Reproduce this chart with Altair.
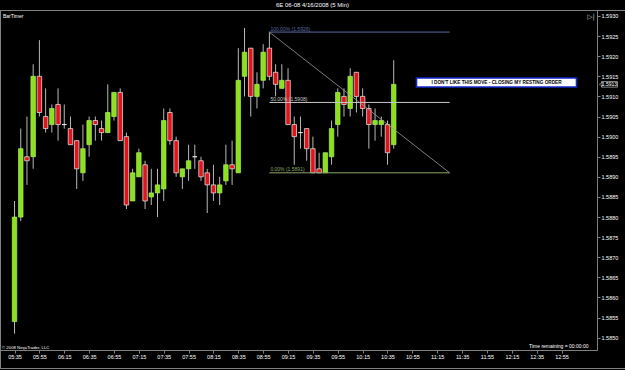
import altair as alt
import pandas as pd

# ---------------- data ----------------
bar_times = ["05:35", "05:40", "05:45", "05:50", "05:55", "06:00", "06:05", "06:10",
             "06:15", "06:20", "06:25", "06:30", "06:35", "06:40", "06:45", "06:50",
             "06:55", "07:00", "07:05", "07:10", "07:15", "07:20", "07:25", "07:30",
             "07:35", "07:40", "07:45", "07:50", "07:55", "08:00", "08:05", "08:10",
             "08:15", "08:20", "08:25", "08:30", "08:35", "08:40", "08:45", "08:50",
             "08:55", "09:00", "09:05", "09:10", "09:15", "09:20", "09:25", "09:30",
             "09:35", "09:40", "09:45", "09:50", "09:55", "10:00", "10:05", "10:10",
             "10:15", "10:20", "10:25", "10:30", "10:35", "10:40"]

opens = [1.5854, 1.5880, 1.5895, 1.5895, 1.5915, 1.5905, 1.5903, 1.5908,
         1.5903, 1.5902, 1.5899, 1.5891, 1.5898, 1.5904, 1.5902, 1.5901,
         1.5905, 1.5911, 1.5900, 1.5884, 1.5890, 1.5893, 1.5885, 1.5886,
         1.5887, 1.5906, 1.5899, 1.5890, 1.5892, 1.5895, 1.5894, 1.5891,
         1.5888, 1.5886, 1.5889, 1.5893, 1.5891, 1.5915, 1.5922, 1.5910,
         1.5914, 1.5922, 1.5916, 1.5912, 1.5914, 1.5903, 1.5901, 1.5902,
         1.5897, 1.5892, 1.5891, 1.5895, 1.5903, 1.5910, 1.5907, 1.5916,
         1.5910, 1.5907, 1.5903, 1.5903, 1.5903, 1.5898]
highs = [1.5884, 1.5902, 1.5905, 1.5918, 1.5924, 1.5912, 1.5908, 1.5912,
         1.5908, 1.5905, 1.5899, 1.5903, 1.5905, 1.5905, 1.5904, 1.5913,
         1.5911, 1.5912, 1.5901, 1.5892, 1.5897, 1.5894, 1.5892, 1.5892,
         1.5907, 1.5907, 1.5900, 1.5892, 1.5898, 1.5898, 1.5895, 1.5892,
         1.5893, 1.5890, 1.5898, 1.5899, 1.5922, 1.5927, 1.5922, 1.5916,
         1.5923, 1.5926, 1.5918, 1.5918, 1.5917, 1.5905, 1.5905, 1.5902,
         1.5900, 1.5896, 1.5896, 1.5904, 1.5912, 1.5912, 1.5917, 1.5916,
         1.5912, 1.5908, 1.5907, 1.5905, 1.5904, 1.5919]
lows = [1.5851, 1.5879, 1.5888, 1.5892, 1.5905, 1.5901, 1.5901, 1.5899,
        1.5902, 1.5898, 1.5887, 1.5889, 1.5895, 1.5899, 1.5899, 1.5901,
        1.5904, 1.5899, 1.5882, 1.5884, 1.5890, 1.5882, 1.5883, 1.5880,
        1.5884, 1.5898, 1.5890, 1.5887, 1.5889, 1.5892, 1.5889, 1.5881,
        1.5884, 1.5883, 1.5888, 1.5888, 1.5891, 1.5910, 1.5905, 1.5907,
        1.5912, 1.5914, 1.5910, 1.5912, 1.5903, 1.5893, 1.5897, 1.5894,
        1.5891, 1.5891, 1.5891, 1.5893, 1.5900, 1.5905, 1.5905, 1.5906,
        1.5905, 1.5897, 1.5899, 1.5900, 1.5893, 1.5897]
closes = [1.5880, 1.5897, 1.5894, 1.5915, 1.5906, 1.5902, 1.5907, 1.5903,
          1.5903, 1.5898, 1.5892, 1.5897, 1.5904, 1.5903, 1.5901, 1.5906,
          1.5911, 1.5899, 1.5883, 1.5891, 1.5896, 1.5884, 1.5886, 1.5888,
          1.5904, 1.5899, 1.5891, 1.5892, 1.5894, 1.5895, 1.5890, 1.5888,
          1.5886, 1.5888, 1.5893, 1.5892, 1.5914, 1.5921, 1.5910, 1.5913,
          1.5921, 1.5915, 1.5913, 1.5914, 1.5903, 1.5900, 1.5901, 1.5897,
          1.5891, 1.5891, 1.5896, 1.5902, 1.5911, 1.5908, 1.5915, 1.5910,
          1.5907, 1.5903, 1.5904, 1.5904, 1.5896, 1.5913]

x_tick_labels = ["05:35", "05:55", "06:15", "06:35", "06:55", "07:15", "07:35",
                 "07:55", "08:15", "08:35", "08:55", "09:15", "09:35", "09:55",
                 "10:15", "10:35", "10:55", "11:15", "11:35", "11:55", "12:15",
                 "12:35", "12:55"]
y_tick_labels = ["1.5850", "1.5855", "1.5860", "1.5865", "1.5870", "1.5875",
                 "1.5880", "1.5885", "1.5890", "1.5895", "1.5900", "1.5905",
                 "1.5910", "1.5915", "1.5920", "1.5925", "1.5930"]

fib_anchor_times = ["09:00", "11:25"]
fib_anchor_prices = [1.5926, 1.5891]
fib_ratios = [1.0, 0.5, 0.0]
fib_labels = ["100.00% (1.5926)", "50.00% (1.5908)", "0.00% (1.5891)"]
fib_colors = ["#5a6aa6", "#c8c8c8", "#8ea56a"]

title_text = "6E 06-08  4/16/2008 (5 Min)"
note_text = "I DON'T LIKE THIS MOVE - CLOSING MY RESTING ORDER"

# ---------------- helpers ----------------
def to_min(s):
    h, m = s.split(":")
    return int(h) * 60 + int(m)

FONT = "Liberation Sans"
GREEN = "#8ce11c"
RED = "#e0141a"
GRAY = "#808080"
PAD_TOP = 10

df = pd.DataFrame({
    "t": [to_min(s) for s in bar_times],
    "open": opens, "high": highs, "low": lows, "close": closes,
})
df["dir"] = ["up" if c > o else ("down" if c < o else "flat") for o, c in zip(opens, closes)]

x_scale = alt.Scale(domain=[327.33, 799.5], nice=False, zero=False)
y_scale = alt.Scale(domain=[1.584694, 1.593149], nice=False, zero=False)

x_axis = alt.Axis(
    values=[to_min(s) for s in x_tick_labels],
    labelExpr="timeFormat(datetime(2008, 3, 16, floor(datum.value / 60), datum.value % 60), '%H:%M')",
    title=None, grid=False, tickSize=3, tickColor=GRAY, domainColor=GRAY,
    labelColor="white", labelFontSize=5.5, labelFont=FONT, labelPadding=1,
    labelOverlap=False, labelBound=False, labelFlush=False,
)
y_axis = alt.Axis(
    orient="right", values=[float(v) for v in y_tick_labels], format=".4f",
    title=None, grid=False, tickSize=3, tickColor=GRAY, domainColor=GRAY,
    labelColor="white", labelFontSize=5.5, labelFont=FONT, labelPadding=1,
    labelOverlap=False, labelBound=False, labelFlush=False,
)

def X(field):
    return alt.X(field, type="quantitative", scale=x_scale, axis=x_axis)

def Y(field):
    return alt.Y(field, type="quantitative", scale=y_scale, axis=y_axis)

wicks = alt.Chart(df).mark_rule(color="#b8b8b8", strokeWidth=1).encode(
    x=X("t"), y=Y("low"), y2="high:Q",
)

bodies = alt.Chart(df).mark_bar(size=4.5, strokeWidth=0.7).encode(
    x=X("t"), y=Y("open"), y2="close:Q",
    fill=alt.Fill("dir:N", scale=alt.Scale(domain=["up", "down", "flat"],
                                            range=[GREEN, RED, "#ffffff"]), legend=None),
    stroke=alt.Stroke("dir:N", scale=alt.Scale(domain=["up", "down", "flat"],
                                                range=["#a8ec5a", "#f0f0f0", "#ffffff"]), legend=None),
)

# Fibonacci retracement
t0, t1 = [to_min(s) for s in fib_anchor_times]
p_hi, p_lo = fib_anchor_prices
fib_df = pd.DataFrame({
    "x0": [t0] * 3, "x1": [t1] * 3,
    "price": [p_lo + r * (p_hi - p_lo) for r in fib_ratios],
    "label": fib_labels, "col": fib_colors,
})
fib_lines = alt.Chart(fib_df).mark_rule(strokeWidth=1).encode(
    x=X("x0"), x2="x1:Q", y=Y("price"),
    color=alt.Color("col:N", scale=None),
)
fib_text = alt.Chart(fib_df).mark_text(align="left", baseline="bottom", dx=1, dy=-0.5,
                                       fontSize=5, font=FONT).encode(
    x=X("x0"), y=Y("price"), text="label:N",
    color=alt.Color("col:N", scale=None),
)
diag_df = pd.DataFrame({"x0": [t0], "x1": [t1], "y0": [p_hi], "y1": [p_lo]})
diag = alt.Chart(diag_df).mark_rule(color="#9a9a9a", strokeWidth=0.8).encode(
    x=X("x0"), x2="x1:Q", y=Y("y0"), y2="y1:Q",
)

# note box
one = pd.DataFrame({"a": [0]})
note_box = alt.Chart(one).mark_rect(fill="white", stroke="#1428c8", strokeWidth=1.6).encode(
    x=alt.value(416.5), x2=alt.value(576.5),
    y=alt.value(78 - PAD_TOP), y2=alt.value(87 - PAD_TOP),
)
note = alt.Chart(pd.DataFrame({"s": [note_text]})).mark_text(
    fontSize=4.7, fontWeight="bold", font=FONT, color="black", baseline="middle"
).encode(x=alt.value(496.5), y=alt.value(82.6 - PAD_TOP), text="s:N")

# last price tag
last_df = pd.DataFrame({"p": [closes[-1]], "s": [f"{closes[-1]:.4f}"]})
tag_box = alt.Chart(last_df).mark_rect(fill="black", stroke="#e0e0e0", strokeWidth=0.6,
                                       yOffset=-2.8, y2Offset=2.8).encode(
    x=alt.value(601.5), x2=alt.value(617.5), y=Y("p"), y2="p:Q",
)
tag_arrow = alt.Chart(last_df).mark_point(shape="triangle-left", size=14, filled=True,
                                          fill="black", stroke="#e0e0e0", strokeWidth=0.6).encode(
    x=alt.value(600.8), y=Y("p"),
)
tag_text = alt.Chart(last_df).mark_text(fontSize=5, font=FONT, color="white",
                                        baseline="middle", align="center").encode(
    x=alt.value(609.5), y=Y("p"), text="s:N",
)

# texts & frame
def label(s, x, y, size=5.5, align="left", color="white", font=FONT):
    return alt.Chart(pd.DataFrame({"s": [s]})).mark_text(
        fontSize=size, font=font, color=color, align=align, baseline="middle"
    ).encode(x=alt.value(x), y=alt.value(y - PAD_TOP), text="s:N")

title = label(title_text, 312.5, 5, size=6, align="center")
bartimer = label("BarTimer", 3, 16, size=5)
icon = label("▷|", 591, 17, size=7, align="center", color="#c0c0c0", font="DejaVu Sans")
copyright_t = label("© 2008 NinjaTrader, LLC", 2, 347.6, size=4.3)
remaining = label("Time remaining = 00:00:00", 588.5, 345.5, size=5, align="right")

def hrule(y, x0, x1):
    return alt.Chart(one).mark_rule(color=GRAY, strokeWidth=1).encode(
        x=alt.value(x0), x2=alt.value(x1), y=alt.value(y - PAD_TOP))

def vrule(x, y0, y1):
    return alt.Chart(one).mark_rule(color=GRAY, strokeWidth=1).encode(
        x=alt.value(x), y=alt.value(y0 - PAD_TOP), y2=alt.value(y1 - PAD_TOP))

frame = hrule(10.5, 0, 625) + hrule(368.5, 0, 625) + vrule(0.5, 10, 369)

chart = alt.layer(
    wicks, bodies, fib_lines, diag, fib_text, note_box, note,
    tag_box, tag_arrow, tag_text, title, bartimer, icon, copyright_t, remaining, frame,
).properties(
    width=597, height=340, background="black",
    padding={"left": 0, "top": PAD_TOP, "right": 28, "bottom": 20},
    autosize=alt.AutoSizeParams(type="none"),
).configure_view(stroke=None)

chart.save("out.html", embed_options={"renderer": "svg", "actions": False})
